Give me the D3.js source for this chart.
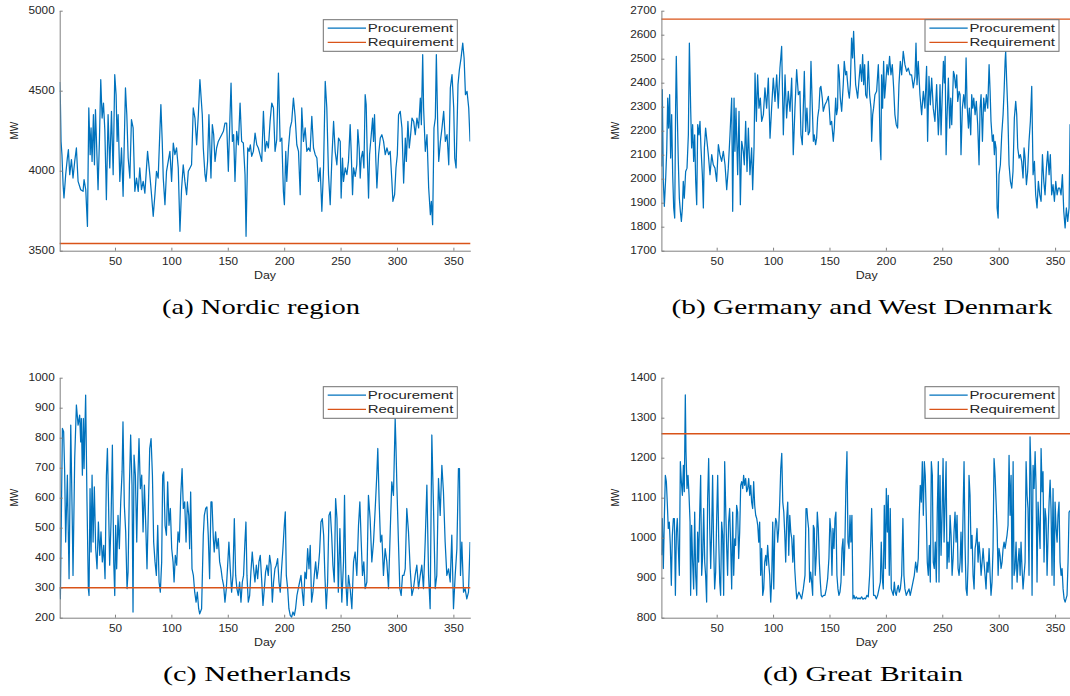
<!DOCTYPE html>
<html>
<head>
<meta charset="utf-8">
<script src="https://cdn.jsdelivr.net/npm/d3@7/dist/d3.min.js"></script>
<style>
  body { margin: 0; background: #fff; }
  svg { display: block; }
  text { font-family: "Liberation Sans", Arial, sans-serif; fill: #262626; }
  .caption { font-family: "Liberation Serif", "Times New Roman", serif; fill: #000; }
</style>
</head>
<body>
<svg id="chart"></svg>
<script>
// Procurement per region, [day, MW]
const nordicProcurement = [
  [1,4554],[1.6,4433],[2.2,4183],[3,4100],[4,3913],[4.8,3830],[6.3,3975],[7.8,4080],[8.7,4131],[9.9,3975],[11.4,4069],[12.8,3954],[14.3,4058],[15.8,4142],[17.3,3933],[19.6,3881],[21.7,3871],[22.6,3944],[24.1,3881],[25.6,3652],[26.8,4392],[28,4100],[28.8,4267],[29.7,4058],[30.9,4350],[31.8,4037],[32.7,4381],[33.9,4121],[35,3881],[36.2,4183],[37.4,4569],[38.6,4329],[39.8,4423],[41,4256],[42.4,3819],[43.9,4350],[45.4,4017],[46.9,4371],[48.4,3975],[49.8,4600],[51,4475],[51.9,4183],[52.8,4350],[54.3,3933],[55.8,4142],[57.2,3840],[59.3,4517],[60.5,4350],[61.7,4079],[63.2,3954],[64.6,4319],[66.1,4267],[67.6,3871],[69.1,3954],[70.6,3871],[72,4017],[73.5,3881],[75,3933],[76.5,3860],[78.9,4121],[80.9,3975],[82.4,3850],[83.9,3715],[85.4,3850],[86.8,3996],[88.3,3954],[89.8,4246],[90.7,4413],[91.9,4183],[92.8,3954],[94.3,3788],[95.7,3996],[97.2,4058],[98.7,4121],[100.2,3933],[101.7,4173],[103.1,4100],[104.6,4142],[106.1,4017],[107.6,3621],[109,3881],[110.5,4037],[112,3933],[113.5,3850],[115,3996],[116.5,4017],[117.9,4037],[119.4,4392],[120.9,4329],[122.4,4162],[123.9,4350],[125.3,4569],
  [126.2,4475],[127.4,4350],[128.3,4142],[129.8,3975],[130.7,3933],[132.1,4058],[133.3,4350],[134.2,4142],[135.1,3954],[136.3,4288],[137.5,4225],[138.7,4058],[140.1,4142],[141.6,4183],[143.1,4204],[144.6,4225],[146.1,4246],[147.5,4298],[149,4298],[150.5,3996],[152,4350],[152.9,4548],[154.1,4183],[155.2,4225],[156.4,3933],[157.9,4246],[159.4,4162],[160.9,4423],[162.3,4183],[163.8,4173],[165.3,3975],[166.2,3590],[167.7,4142],[168.9,4121],[170,4162],[171.2,4090],[172.7,4121],[174.2,4235],[175.7,4162],[177.1,4142],[178.6,4100],[180.1,4058],[181.6,4371],[183.1,4121],[184.5,4183],[186,4142],[187.5,4308],[189,4423],[190.5,4392],[191.9,4121],[193.4,4194],[194.9,4610],[196.4,4183],[197.9,4204],[199.3,3871],[200.2,3788],[201.4,4121],[202.3,3933],[203.8,4142],[205.3,4267],[206.7,4308],[208.2,4454],[209.7,4340],[211.2,4162],[212.7,4121],[214.2,3850],[215.6,4392],[217.1,4183],[218.6,4267],[220.1,4121],[221.6,4142],[223,4121],[224.5,4340],[226,4142],[227.5,4100],[229,4079],[230.4,3933],[231.9,4017],[233.4,3746],[234.9,4017],[236.4,4558],[237.8,4392],[239.3,3975],[240.8,3788],[242.3,4079],[243.8,4308],[245.2,4121],[246.7,4037],[248.2,4204],[249.7,4183],
  [250.5,3829],[251.7,4079],[252.6,3933],[254.1,4017],[255.6,3975],[257,4058],[258.5,4288],[259.4,4121],[260.6,3850],[261.5,4017],[263,3965],[264.4,4037],[265.3,4256],[266.5,4142],[267.4,3954],[268.3,4079],[269.5,4121],[270.7,4017],[271.8,4475],[272.7,4413],[273.6,4121],[274.8,3829],[275.7,4100],[277.2,4225],[278.4,4329],[279.2,4183],[280.1,4350],[281.3,4058],[282.2,3892],[283.7,4100],[285.2,4204],[286.6,4225],[288.1,4183],[289.6,4100],[291.1,4142],[292.6,4100],[294,4121],[295.5,3933],[296.4,3808],[297.9,3850],[299.1,4017],[300.3,4100],[301.4,4350],[302.9,4371],[304.4,4267],[305.9,3923],[307.4,4204],[308.3,4058],[309.7,4308],[310.9,4142],[312.1,4225],[313.3,4329],[314.8,4308],[316.2,4225],[317.7,4329],[319.2,4267],[320.7,4454],[321.6,4288],[322.8,4725],[323.6,4392],[325.1,4121],[326.6,4225],[328.1,3892],[329.6,3725],[330.5,3808],[331.6,3663],[332.8,4267],[334,4329],[334.9,4725],[336.1,4288],[337,4058],[338.5,4183],[339.9,4267],[341.4,4371],[342.9,4183],[344.4,4225],[345.9,4037],[347.3,4517],[348.8,4600],[350.3,4392],[351.2,4079],[352.4,4017],[354.1,4538],[355.3,4631],[356.8,4704],[358.3,4798],[359.5,4704],[360.7,4475],[362.1,4496],[363.6,4392],[364.8,4183]
];

const germanyProcurement = [
  [1.2,2051],[1.8,2371],[2.7,1989],[3.6,1885],[4.8,2003],[5.7,2114],[6.6,2336],[7.4,2211],[8.3,2350],[9.2,2086],[10.1,2267],[11,2017],[11.9,1878],[12.8,1836],[13.6,2294],[14.2,2510],[15.1,2267],[16,2072],[16.9,1919],[17.8,1864],[18.7,1822],[19.6,1878],[20.4,1989],[21.3,1919],[22.5,2030],[23.7,2044],[24.9,2183],[25.8,2565],[27,2281],[27.8,2128],[28.7,2225],[29.6,2072],[30.5,2183],[31.4,1989],[32.3,1892],[33.2,2225],[34.3,2183],[35.2,2239],[36.1,2128],[37.3,2017],[38.2,1878],[39.1,2128],[40.2,2211],[41.4,2156],[42.6,2100],[44.1,2017],[45.6,2100],[47,2058],[48.5,2044],[50,1989],[51.5,2142],[52.9,2100],[54.4,2072],[55.9,2114],[57.4,2058],[58.9,1954],[60.3,2044],[61.8,2183],[63.3,2336],[64.2,1864],[65.4,2336],[66.2,2114],[67.1,2294],[68.6,2017],[69.8,2281],[71,1892],[72.2,2156],[73.6,2114],[74.5,2058],[75.7,2239],[76.9,2030],[78.1,2211],[79.5,2017],[81,2128],[81.9,1954],[83.1,2128],[84,2440],[85.2,2239],[86.3,2433],[87.5,2294],[88.7,2336],[89.9,2239],[91.4,2267],[92.8,2378],[94.3,2294],[95.8,2419],[97.3,2169],[98.7,2294],[100.2,2419],[101.7,2322],[103.2,2433],[104.6,2294],[106.1,2461],[107.6,2551],[109.1,2183],[110.6,2433],[112,2253],[113.5,2364],[115,2281],[116.5,2419],[117.9,2100],[119.4,2294],[120.9,2454],[122.4,2350],
  [123.8,2364],[124.7,2183],[125.9,2142],[126.8,2294],[127.7,2447],[128.9,2197],[130,2294],[131.2,2183],[132.4,2197],[133.6,2489],[134.8,2294],[135.7,2156],[136.5,2183],[137.7,2142],[138.6,2169],[139.5,2253],[140.7,2294],[141.6,2378],[142.4,2385],[143.6,2336],[144.5,2281],[146,2308],[147.5,2322],[149,2343],[149.8,2294],[150.7,2225],[151.9,2239],[153.4,2156],[154.3,2211],[155.5,2336],[156.3,2267],[157.2,2294],[157.8,2475],[158.7,2433],[159.6,2336],[160.8,2281],[162.2,2392],[163.1,2489],[164.3,2433],[165.2,2447],[166.7,2364],[167.6,2336],[168.5,2392],[169.6,2586],[170.5,2503],[171.4,2614],[172.3,2489],[173.2,2392],[174.1,2364],[175,2336],[176.1,2406],[177.3,2475],[178.5,2406],[179.4,2517],[180.3,2392],[181.2,2475],[182.1,2350],[183.2,2336],[184.4,2489],[185.6,2350],[186.8,2294],[187.4,2156],[188.3,2267],[189.1,2294],[190.3,2350],[191.8,2364],[193.3,2475],[193.9,2392],[194.8,2156],[195.6,2079],[196.2,2433],[197.1,2294],[198,2489],[198.9,2336],[199.8,2392],[201,2475],[202.1,2433],[203.3,2510],[204.5,2433],[205.7,2475],[206.9,2378],[208,2267],[209.2,2225],[210.4,2211],[211.6,2392],[212.8,2489],[214,2433],[215.4,2531],[216.9,2475],[218.4,2447],[219.9,2461],[221.4,2433],[222.8,2433],[224.3,2378],[225.8,2426],[226.7,2565],[227.6,2392],[228.7,2489],[230.2,2350],[231.7,2267],[233.2,2364],[234.6,2294],[236.1,2468],[237,2156],[238.2,2426],[239.4,2308],[240.6,2419],[242,2294],[243.5,2239],[245,2392],[246.5,2183],
  [247.1,2239],[248,2392],[248.9,2183],[250.1,2364],[251,2489],[251.9,2399],[252.5,2510],[253.4,2100],[254.2,2253],[255.4,2419],[256.6,2211],[257.5,2336],[258.4,2225],[259.9,2447],[260.7,2433],[261.9,2378],[262.8,2433],[263.7,2322],[264.9,2364],[265.8,2350],[266.6,2100],[267.8,2294],[269,2350],[270.2,2294],[271.1,2503],[272,2308],[273.2,2211],[274,2294],[275.2,2183],[276.1,2350],[277,2294],[277.9,2336],[279.1,2267],[280.2,2322],[281.4,2225],[282.6,2058],[283.5,2294],[284.4,2350],[285.6,2156],[286.7,2336],[287.9,2281],[289.1,2350],[290.3,2294],[291.5,2475],[292.4,2364],[293.2,2239],[294.4,2156],[295.3,2183],[296.2,2100],[296.8,2156],[297.7,2128],[298.6,1878],[299.5,1836],[300.3,2017],[301.5,2058],[302.7,2183],[303.9,2267],[304.8,2364],[305.7,2489],[306.2,2531],[307.1,2406],[308,2294],[309.2,2058],[310.4,1989],[311.6,1961],[312.7,2030],[313.9,2253],[315.1,2322],[316,2267],[316.9,2128],[318.1,2086],[319.2,2100],[320.4,2072],[321.6,2003],[322.5,2128],[323.4,2086],[324.6,1975],[325.7,2030],[326.9,2156],[328.1,2239],[329.3,2385],[330.5,2017],[331.7,2072],[332.8,1933],[334,1878],[335.2,1989],[336.4,1933],[337.6,1906],[338.8,2100],[340,1989],[341.1,1933],[342.3,2044],[343.5,2114],[344.7,2017],[345.8,2100],[347,1933],[348.2,1975],[349.4,1906],[350.6,1989],[351.8,1933],[352.9,1961],[354.1,1961],[355.3,1933],[356.5,2017],[357.7,1864],[358.9,1795],[360,1878],[361.2,1822],[362.4,1878],[363.3,2225],[365,2100]
];

const netherlandsProcurement = [
  [1,297],[1.6,263],[3.4,831],[4.5,820],[5.4,686],[6.3,452],[7.8,675],[9.3,330],[10.8,842],[12.2,508],[12.8,341],[14.3,731],[15.8,909],[17.3,842],[18.7,875],[19.6,786],[20.2,864],[21.1,675],[22,864],[22.6,697],[24,942],[25.2,586],[26.4,297],[27,274],[27.9,630],[28.8,419],[29.7,675],[30.6,452],[31.7,636],[32.9,430],[34.1,363],[35.3,519],[36.5,408],[37.6,486],[38.8,386],[40,441],[41.2,330],[42.4,675],[43.3,764],[44.1,619],[45.3,375],[46.5,519],[47.7,775],[48.9,386],[49.8,274],[50.6,508],[51.5,363],[52.7,541],[53.9,430],[55.1,586],[56.3,686],[57.1,853],[58.3,575],[59.5,486],[60.7,297],[61.6,352],[62.8,642],[63.9,809],[65.1,642],[66,219],[66.9,742],[68.1,675],[69.3,452],[70.4,675],[71.3,797],[72.5,630],[73.7,675],[74.9,486],[76.1,642],[77.2,519],[78.4,363],[79.6,564],[80.8,764],[82,797],[83.2,675],[84.3,452],[85.5,386],[86.7,341],[87.9,508],[89.1,319],[90.2,285],[91.4,386],[92.3,675],[93.2,686],[94.4,508],[95.6,475],[96.7,653],[97.9,508],[99.1,564],[100.3,430],[101.5,386],[102.4,319],[103.5,408],[104.7,375],[105.9,486],[107.1,452],[108.3,608],[109.5,697],[110.6,564],[111.8,586],[113,452],[114.2,586],[115.4,541],[116.2,430],[117.1,619],[118.3,363],[119.5,341],[120.7,285],[121.9,252],[123,285],[124.2,230],[125.1,213],
  [126.8,230],[128.3,475],[129.2,541],[130.4,564],[131.5,569],[132.7,475],[133.9,330],[135.1,586],[136,586],[137.2,464],[138,419],[139.2,486],[140.4,430],[141.6,464],[142.8,386],[144,363],[145.1,330],[146.3,308],[147.5,252],[148.7,297],[149.9,375],[151,452],[152.2,363],[153.4,285],[154.6,341],[155.8,530],[157,341],[158.1,297],[159.3,274],[160.5,319],[161.7,252],[162.9,319],[164,341],[165.2,452],[166.1,519],[167,341],[168.2,252],[169.4,274],[170.5,352],[171.7,419],[172.9,363],[174.1,319],[175.3,375],[176.5,330],[177.6,386],[178.8,408],[180,330],[181.2,241],[182.4,297],[183.5,352],[184.7,375],[185.9,341],[187.1,408],[188.3,375],[189.5,252],[190.6,319],[191.8,363],[193,375],[194.2,397],[195.4,319],[196.5,285],[197.7,363],[198.9,430],[200.1,508],[201,553],[201.9,341],[203.1,297],[204.2,230],[205.4,208],[206.6,202],[207.8,219],[209,208],[210.1,230],[211.3,274],[212.5,297],[213.7,319],[214.9,341],[216.1,285],[217.2,241],[218.4,352],[219.6,330],[220.8,430],[222,363],[223.1,441],[224.3,252],[225.5,285],[226.7,341],[227.9,386],[229.1,330],[230.2,363],[231.4,419],[232.6,519],[233.8,530],[235,475],[236.1,341],[237.3,230],[238.5,319],[239.7,541],[240.9,553],[242.1,475],[243.2,375],[244.4,319],[245.6,597],[246.8,530],[248,285],[249.4,497],
  [251.1,252],[252.6,386],[253.5,608],[254.7,319],[255.8,241],[257,341],[258.5,297],[260,230],[261.5,386],[262.9,419],[264.4,341],[265.9,508],[267.1,586],[268.3,452],[269.4,341],[270.6,386],[271.8,297],[273.3,319],[274.7,608],[276.2,530],[277.7,386],[279.2,452],[280.7,564],[282.1,675],[283,764],[284.2,586],[285.4,452],[286.6,475],[288,341],[289.5,430],[291,386],[292.5,297],[294,486],[295.4,653],[296.9,608],[298.4,864],[299,786],[299.9,642],[301.3,452],[302.5,297],[303.7,274],[304.9,341],[306.1,341],[307.3,363],[308.7,564],[310.2,486],[311.7,363],[313.2,274],[314.6,297],[316.1,341],[317.6,375],[319.1,297],[320.6,341],[322,375],[323.5,297],[325,452],[326.5,642],[328,341],[329.4,230],[330.9,809],[332.4,564],[333.9,297],[335.3,341],[336.8,664],[338.3,541],[339.8,708],[341.2,619],[342.7,452],[344.2,341],[345.7,363],[347.2,319],[348.6,475],[350.1,230],[351.6,341],[353.1,430],[354.5,697],[355.4,697],[356.3,341],[357.5,452],[359,285],[360.4,297],[361.9,263],[363.4,285],[364.8,452]
];

const britainProcurement = [
  [1.2,956],[1.8,1048],[2.7,923],[3.6,1048],[4.5,1156],[5.4,1140],[6.3,1081],[7.1,1023],[8,1039],[8.9,981],[9.8,881],[10.7,1006],[11.6,1048],[12.5,1048],[13.4,856],[14.3,1014],[15.1,1048],[16,973],[16.9,906],[17.8,1190],[18.7,1140],[19.6,1106],[20.5,1181],[21.3,1115],[22.2,1357],[22.8,1215],[23.7,1123],[24.6,1156],[25.5,1106],[26.4,1039],[26.9,856],[27.8,1031],[28.7,939],[29.6,872],[30.5,1064],[31.4,906],[32.3,856],[33.1,1014],[34,939],[34.9,1056],[35.8,1156],[36.7,906],[37.6,956],[38.5,1073],[39.4,939],[40.2,906],[41.1,839],[42,1098],[42.9,1198],[43.8,1031],[44.7,923],[45.6,1023],[46.4,1156],[47.3,981],[48.2,872],[49.1,914],[50,1048],[50.9,1156],[51.8,997],[52.7,889],[53.5,856],[54.4,1039],[55.3,1006],[56.2,856],[57.1,1190],[58,1073],[58.9,973],[59.7,906],[60.6,1039],[61.5,1073],[62.4,981],[63.3,872],[64.2,1064],[65.1,906],[66,997],[66.8,981],[67.7,1081],[68.6,1064],[69.5,948],[70.4,1014],[71.3,1131],[72.2,1140],[73.1,1123],[73.9,1156],[74.8,1131],[75.7,1148],[76.6,1115],[77.5,1123],[78.4,1148],[79.3,1106],[80.2,1131],[81,1089],[81.9,1073],[82.8,1140],[83.7,1081],[84.6,1056],[85.5,1048],[86.4,1031],[87.3,989],[88.1,1039],[89,906],[89.9,973],[90.8,856],[91.7,872],[92.6,939],[93.5,956],[94.3,931],[95.2,981],[96.1,939],[97,906],[97.9,839],[98.8,898],[99.7,1039],[100.6,872],[101.5,1014],[102.3,1048],[103.2,1039],[104.1,989],[105,1023],[105.9,1089],[106.8,1173],[107.7,1211],[108.6,1089],[109.5,1064],[110.4,1006],[111.2,939],[112.1,1048],[113,1089],[113.9,956],[114.8,1056],[115.7,1014],[116.6,997],[117.5,939],[118.4,1006],[119.2,923],[120.1,881],[121,847],[121.9,856],[122.8,864],
  [124.1,856],[125.3,847],[126.8,872],[128.3,906],[129.2,1073],[130,1073],[130.6,1048],[131.5,1023],[132.4,889],[133.3,914],[134.2,889],[135.1,856],[135.7,1031],[136.5,1023],[137.4,906],[138.3,956],[139.2,1064],[140.1,1023],[141,939],[141.9,889],[142.7,856],[143.6,852],[144.8,856],[146,856],[147.2,872],[148.4,898],[149.5,948],[150.4,1048],[151.3,1014],[152.2,906],[153.1,1023],[154,973],[154.9,1048],[155.7,1064],[156.6,906],[157.5,872],[158.4,856],[159.3,864],[160.2,889],[161.1,973],[162,997],[162.8,906],[163.7,989],[164.6,1131],[165.5,1215],[166.4,989],[167.3,973],[168.2,1056],[169,989],[169.9,1056],[170.8,847],[171.7,856],[172.6,847],[173.8,852],[175,847],[176.1,849],[177.3,847],[178.5,852],[179.7,846],[180.9,849],[182,847],[183.2,856],[184.4,852],[185.6,906],[186.5,981],[187.4,1073],[188.3,956],[189.1,856],[190.3,856],[191.5,847],[192.7,856],[193.9,872],[195.1,889],[195.9,989],[196.8,898],[197.7,872],[198.6,1081],[199.5,923],[200.4,1123],[201.3,1014],[202.1,1106],[203,906],[203.9,1073],[204.8,872],[205.7,864],[206.6,856],[207.5,889],[208.3,864],[209.2,856],[210.1,872],[211,881],[211.9,864],[212.8,872],[214,906],[215.1,1048],[216,906],[216.9,872],[218.1,856],[219.3,864],[220.5,872],[221.6,856],[222.8,872],[224,889],[225.2,906],[226.4,939],[227.6,914],[228.7,948],[229.6,1056],[230.5,1131],[231.4,1089],[232.3,1190],[233.2,1056],[234.1,1190],[234.9,1156],[235.8,1056],[236.7,939],[237.6,906],[238.5,981],[239.4,889],[240.3,1190],[241.2,1156],[242,939],[242.9,923],[243.8,989],[244.7,889],[245.6,1073],[246.5,1190],
  [247.1,889],[248,1156],[248.9,956],[249.8,1056],[250.7,1198],[251.6,989],[252.5,1089],[253.4,1190],[254.2,923],[255.1,989],[256,939],[256.9,1056],[257.8,1006],[258.7,906],[259.6,948],[260.4,1014],[261.3,1064],[262.2,989],[263.1,1056],[264,923],[264.9,906],[265.8,939],[266.6,1014],[267.5,914],[268.4,1056],[269.3,1190],[270.2,981],[271.1,872],[272,856],[272.9,939],[273.7,1156],[274.6,1106],[275.5,973],[276.4,1006],[277.3,906],[278.2,872],[279.1,973],[279.9,989],[280.8,1023],[281.7,939],[282.6,989],[283.5,956],[284.4,906],[285.3,939],[286.2,973],[287,939],[287.9,906],[288.8,872],[289.7,939],[290.6,914],[291.5,973],[292.4,906],[293.2,856],[294.1,889],[295,973],[295.9,1198],[296.8,1156],[297.7,1089],[298.6,1023],[299.5,906],[300.3,973],[301.2,956],[302.1,923],[303,939],[303.9,973],[304.8,989],[305.7,973],[306.5,989],[307.4,1006],[308.3,1031],[309.2,1206],[310.1,1056],[311,1156],[311.9,872],[312.8,1190],[313.6,906],[314.5,923],[315.4,989],[316.3,889],[317.2,939],[318.1,973],[319,906],[319.8,989],[320.7,923],[321.6,872],[322.5,906],[323.4,939],[324.3,1190],[325.2,1106],[326,1073],[326.9,906],[327.8,1252],[328.7,1156],[329.6,856],[330.5,1181],[331.4,1123],[332.3,1215],[333.1,1131],[334,889],[334.9,1089],[335.8,1031],[336.7,973],[337.6,1223],[338.5,1115],[339.3,1165],[340.2,939],[341.1,1073],[342,1048],[342.9,906],[343.8,1006],[344.7,1089],[345.6,1144],[346.4,1073],[347.3,906],[348.2,1123],[349.1,881],[350,1089],[350.9,1023],[351.8,989],[352.6,1056],[353.5,1089],[354.4,939],[355.3,906],[356.2,923],[357.1,872],[358,847],[358.9,839],[359.7,847],[360.6,856],[361.5,939],[362.4,1064],[364,1070]
];

// Requirement levels (MW)
const nordicRequirement = 3545;
const germanyRequirement = 2665;
const netherlandsRequirement = 300;
const britainRequirement = 1260;

// tick labels
const dayTicks = [50, 100, 150, 200, 250, 300, 350];
const nordicTicks = [3500, 4000, 4500, 5000];
const germanyTicks = [1700, 1800, 1900, 2000, 2100, 2200, 2300, 2400, 2500, 2600, 2700];
const netherlandsTicks = [200, 300, 400, 500, 600, 700, 800, 900, 1000];
const britainTicks = [800, 900, 1000, 1100, 1200, 1300, 1400];

const legendLabels = ["Procurement", "Requirement"];
const colors = { procurement: "#0072BD", requirement: "#D95319" };

const width = 1070, height = 696;
const plotW = 410.6, plotH = 240;
const stretch = 1.18; // the figure is a little wider than tall

const svg = d3.select("#chart").attr("width", width).attr("height", height);

const panels = [
  { series: nordicProcurement, req: nordicRequirement, domain: [3500, 5000], ticks: nordicTicks,
    caption: "(a) Nordic region", capW: 198, capX: 261, left: 59.7, top: 10.7 },
  { series: germanyProcurement, req: germanyRequirement, domain: [1700, 2700], ticks: germanyTicks,
    caption: "(b) Germany and West Denmark", capW: 381, capX: 862, left: 661.4, top: 10.7 },
  { series: netherlandsProcurement, req: netherlandsRequirement, domain: [200, 1000], ticks: netherlandsTicks,
    caption: "(c) Netherlands", capW: 188, capX: 257, left: 59.7, top: 377.7 },
  { series: britainProcurement, req: britainRequirement, domain: [800, 1400], ticks: britainTicks,
    caption: "(d) Great Britain", capW: 200, capX: 863, left: 661.4, top: 377.7 }
];

function stretchText(sel) {
  sel.each(function() {
    const t = d3.select(this);
    const x = +t.attr("x") || 0;
    t.attr("transform", `translate(${x},0) scale(${stretch},1) translate(${-x},0)`);
  });
}

panels.forEach((p, i) => {
  const x = d3.scaleLinear().domain([1, 365]).range([p.left, p.left + plotW]);
  const y = d3.scaleLinear().domain(p.domain).range([p.top + plotH, p.top]);
  const g = svg.append("g");

  g.append("clipPath").attr("id", "clip" + i)
    .append("rect")
    .attr("x", p.left).attr("y", p.top - 1)
    .attr("width", plotW).attr("height", plotH + 2);

  // procurement line
  g.append("path")
    .datum(p.series)
    .attr("clip-path", `url(#clip${i})`)
    .attr("fill", "none")
    .attr("stroke", colors.procurement)
    .attr("stroke-width", 1.25)
    .attr("stroke-linejoin", "round")
    .attr("d", d3.line().x(d => x(d[0])).y(d => y(d[1])));

  // requirement line
  g.append("line")
    .attr("x1", x(1)).attr("x2", x(365))
    .attr("y1", y(p.req)).attr("y2", y(p.req))
    .attr("stroke", colors.requirement)
    .attr("stroke-width", 1.4);

  // axes, ticks pointing inwards like matlab
  const xAxis = g.append("g")
    .attr("transform", `translate(0,${p.top + plotH})`)
    .call(d3.axisBottom(x).tickValues(dayTicks).tickSizeInner(-3).tickSizeOuter(0).tickPadding(7));
  const yAxis = g.append("g")
    .attr("transform", `translate(${p.left},0)`)
    .call(d3.axisLeft(y).tickValues(p.ticks).tickFormat(d3.format("d")).tickSizeInner(-3).tickSizeOuter(0).tickPadding(5));

  [xAxis, yAxis].forEach(a => {
    a.select(".domain").attr("stroke", "#808080");
    a.selectAll(".tick line").attr("stroke", "#808080");
    a.selectAll(".tick text").attr("fill", "#262626")
      .style("font-size", "10px").style("font-family", "'Liberation Sans', Arial, sans-serif");
  });
  stretchText(xAxis.selectAll(".tick text"));
  yAxis.selectAll(".tick text").each(function() {
    d3.select(this).attr("transform", `translate(-5,0) scale(${stretch},1) translate(5,0)`);
  });

  // axis labels
  const dayLabel = g.append("text")
    .attr("x", p.left + plotW / 2).attr("y", p.top + plotH + 28)
    .attr("text-anchor", "middle").style("font-size", "10.5px")
    .text("Day");
  stretchText(dayLabel);

  g.append("text")
    .attr("transform", `translate(${p.left - 42},${p.top + plotH / 2}) rotate(-90) scale(1,${stretch})`)
    .attr("text-anchor", "middle").style("font-size", "10px")
    .text("MW");

  // legend
  const lg = g.append("g").attr("transform", `translate(${p.left + 263.6},${p.top + 9})`);
  lg.append("rect").attr("width", 134).attr("height", 31.6)
    .attr("fill", "#fff").attr("stroke", "#707070").attr("stroke-width", 1);
  [colors.procurement, colors.requirement].forEach((c, k) => {
    const ly = 8.3 + k * 14.3;
    lg.append("line").attr("x1", 4.4).attr("x2", 42.7).attr("y1", ly).attr("y2", ly)
      .attr("stroke", c).attr("stroke-width", 1.25);
    lg.append("text").attr("x", 44.4).attr("y", ly + 4)
      .style("font-size", "11.5px").attr("fill", "#000")
      .attr("textLength", 85.6).attr("lengthAdjust", "spacingAndGlyphs")
      .text(legendLabels[k]);
  });

  // caption under each panel
  svg.append("text")
    .attr("class", "caption")
    .attr("x", p.capX).attr("y", p.top + 303.5)
    .attr("text-anchor", "middle")
    .style("font-size", "21px")
    .attr("textLength", p.capW).attr("lengthAdjust", "spacingAndGlyphs")
    .text(p.caption);
});
</script>
</body>
</html>
